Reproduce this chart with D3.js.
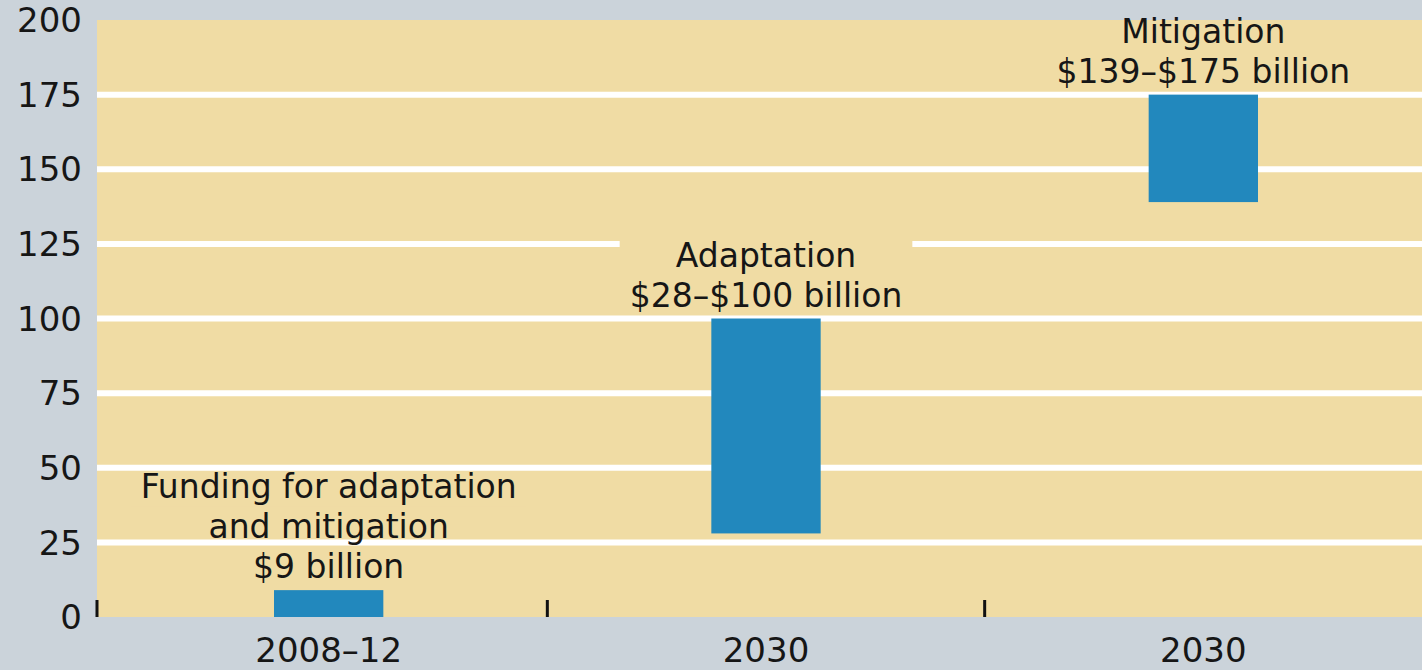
<!DOCTYPE html>
<html>
<head>
<meta charset="utf-8">
<script src="https://cdn.jsdelivr.net/npm/d3@7"></script>
<style>
  html, body { margin: 0; padding: 0; background: #cbd3da; overflow: hidden; }
  text { font-family: "DejaVu Sans", sans-serif; fill: #161616; }
</style>
</head>
<body>
<script>
var categories = ['2008–12', '2030', '2030'];
var lowValues = [0, 28, 139];
var highValues = [9, 100, 175];
var labelLines = [
    ['Funding for adaptation', 'and mitigation', '$9 billion'],
    ['Adaptation', '$28–$100 billion'],
    ['Mitigation', '$139–$175 billion']
];
var yTicks = [0, 25, 50, 75, 100, 125, 150, 175, 200];

window.document.addEventListener('DOMContentLoaded', init, false);

function init() {
    var width = 1422;
    var height = 670;
    var plot = {left: 97, top: 20, right: 1422, bottom: 617};

    var svg = d3.select('body').append('svg')
        .attr('width', width)
        .attr('height', height);

    svg.append('clipPath')
        .attr('id', 'plot-clip')
        .attr('clipPathUnits', 'userSpaceOnUse')
        .append('rect')
        .attr('x', plot.left)
        .attr('y', plot.top)
        .attr('width', plot.right - plot.left)
        .attr('height', plot.bottom - plot.top);

    var x = d3.scaleBand()
        .domain(d3.range(categories.length))
        .range([110, 1422])
        .padding(0);

    var y = d3.scaleLinear()
        .domain([0, 200])
        .range([plot.bottom, plot.top]);

    var barWidth = x.bandwidth() * 0.25;
    var center = (i) => x(i) + x.bandwidth() / 2;

    // plot background
    svg.append('rect')
        .attr('x', plot.left)
        .attr('y', plot.top)
        .attr('width', plot.right - plot.left)
        .attr('height', plot.bottom - plot.top)
        .attr('fill', '#f0dca4');

    // gridlines
    svg.append('g')
        .selectAll('line')
        .data(yTicks.filter((d) => d > 0 && d < 200))
        .enter()
            .append('line')
            .attr('x1', plot.left)
            .attr('x2', plot.right)
            .attr('y1', (d) => y(d))
            .attr('y2', (d) => y(d))
            .attr('stroke', '#ffffff')
            .attr('stroke-width', 6);

    // y tick labels
    svg.append('g')
        .selectAll('text')
        .data(yTicks)
        .enter()
            .append('text')
            .attr('x', 82)
            .attr('y', (d) => y(d))
            .attr('dy', '0.36em')
            .attr('text-anchor', 'end')
            .attr('font-size', 34)
            .text((d) => d);

    // label backgrounds (break the gridlines), clipped to the plot
    var bgLayer = svg.append('g').attr('clip-path', 'url(#plot-clip)');

    // annotations
    var lineHeight = 40;
    var labels = svg.append('g')
        .selectAll('g')
        .data(labelLines)
        .enter()
            .append('g')
            .attr('transform', (d, i) => `translate(${center(i)},${firstBaseline(d, i)})`);

    function firstBaseline(lines, i) {
        var lastBaseline = y(highValues[i]) - 12;
        return lastBaseline - (lines.length - 1) * lineHeight;
    }

    labels.each(function(lines, i) {
        var texts = d3.select(this).selectAll('text')
            .data(lines)
            .enter()
                .append('text')
                .attr('x', 0)
                .attr('y', (d, j) => j * lineHeight)
                .attr('text-anchor', 'middle')
                .attr('font-size', 33)
                .text((d) => d);
        var maxW = d3.max(texts.nodes(), (n) => n.getComputedTextLength());
        var pad = 10;
        bgLayer.append('rect')
            .attr('x', center(i) - maxW / 2 - pad)
            .attr('y', firstBaseline(lines, i) - 26)
            .attr('width', maxW + pad * 2)
            .attr('height', 34)
            .attr('fill', '#f0dca4');
    });

    // bars
    svg.append('g')
        .selectAll('rect')
        .data(categories)
        .enter()
            .append('rect')
            .attr('x', (d, i) => center(i) - barWidth / 2)
            .attr('y', (d, i) => y(highValues[i]))
            .attr('width', barWidth)
            .attr('height', (d, i) => y(lowValues[i]) - y(highValues[i]))
            .attr('fill', '#2288bd');

    // x ticks at category boundaries
    svg.append('g')
        .selectAll('rect')
        .data(categories)
        .enter()
            .append('rect')
            .attr('x', (d, i) => (i === 0 ? plot.left : x(i)) - 1.5)
            .attr('y', plot.bottom - 17)
            .attr('width', 3)
            .attr('height', 17)
            .attr('fill', '#111111');

    // x labels
    svg.append('g')
        .selectAll('text')
        .data(categories)
        .enter()
            .append('text')
            .attr('x', (d, i) => center(i))
            .attr('y', 662)
            .attr('text-anchor', 'middle')
            .attr('font-size', 34)
            .text((d) => d);
}
</script>
</body>
</html>
